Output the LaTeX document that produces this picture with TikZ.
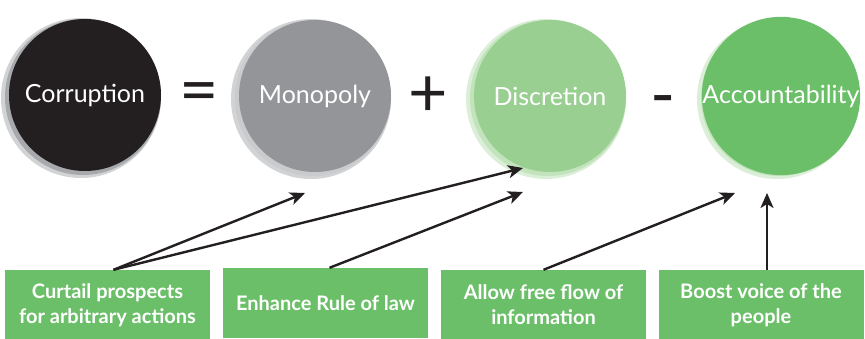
\documentclass[tikz,border=0pt]{standalone}
\usepackage{fontspec}
\setmainfont{Lato}
\usetikzlibrary{arrows.meta,backgrounds}
\definecolor{cdark}{HTML}{231F20}
\definecolor{cgrey}{HTML}{939598}
\definecolor{clgreen}{HTML}{9ACF92}
\definecolor{cgreen}{HTML}{6BBF69}
\definecolor{ringgrey}{HTML}{A7A9AC}
\definecolor{ringlight}{HTML}{D1D3D4}
\definecolor{ringgreen}{HTML}{C3E3BD}
\tikzset{
  circ/.style={circle, minimum size=152pt, inner sep=0pt, text=white,
    font=\fontsize{25}{30}\selectfont},
  opsign/.style={text=cdark, font=\fontsize{68}{70}\selectfont, inner sep=0pt},
  gbox/.style={fill=cgreen, text=white, minimum width=205pt, minimum height=70pt,
    inner sep=0pt, align=center, font=\bfseries\fontsize{20}{25}\selectfont},
  arr/.style={draw=cdark, line width=2.4pt, -{Stealth[length=15pt,width=13pt,inset=4pt]}},
}
\begin{document}
\begin{tikzpicture}[x=1pt,y=-1pt]
\useasboundingbox (0,0) rectangle (865,339);
% circles
\node[circ, fill=cdark] (corr) at (85,95) {Corruption};
\node[circ, fill=cgrey] (mono) at (315,96) {Monopoly};
\node[circ, fill=clgreen] (disc) at (550,96) {Discretion};
\node[circ, fill=cgreen] (acc) at (781,96) {Accountability};
\begin{scope}[on background layer]
  \fill[ringlight] ([shift={(-4,3)}]corr.center) circle (80);
  \fill[ringgrey] ([shift={(-2,2)}]corr.center) circle (78);
  \fill[ringlight] ([shift={(-4,3)}]mono.center) circle (80);
  \fill[ringlight!80!ringgrey] ([shift={(-2,2)}]mono.center) circle (78);
  \fill[ringgreen!60!white] ([shift={(-4,3)}]disc.center) circle (80);
  \fill[ringgreen] ([shift={(-2,2)}]disc.center) circle (78);
  \fill[ringgreen!60!white] ([shift={(-4,3)}]acc.center) circle (80);
  \fill[ringgreen] ([shift={(-2,2)}]acc.center) circle (78);
\end{scope}
% operators
\node[opsign] (eq) at (199,98) {=};
\node[opsign] (plus) at (428,97) {+};
\node[opsign] (minus) at (663,107) {-};
% boxes
\node[gbox] (b1) at (107.5,305) {Curtail prospects\\for arbitrary actions};
\node[gbox] (b2) at (325.5,303) {Enhance Rule of law};
\node[gbox] (b3) at (543.5,305) {Allow free flow of\\information};
\node[gbox] (b4) at (761,305) {Boost voice of the\\people};
% arrow targets
\coordinate (t1) at (305,193);
\coordinate (t2) at (523,168);
\coordinate (t3) at (523,192);
\coordinate (t4) at (735,193);
% arrows
\draw[arr] ([xshift=6pt]b1.north) -- (t1);
\draw[arr] ([xshift=6pt]b1.north) -- (t2);
\draw[arr] ([xshift=4pt]b2.north) -- (t3);
\draw[arr] (b3.north) -- (t4);
\draw[arr] ([xshift=6pt]b4.north) -- ([xshift=6pt]b4.north |- t4);
\end{tikzpicture}
\end{document}
